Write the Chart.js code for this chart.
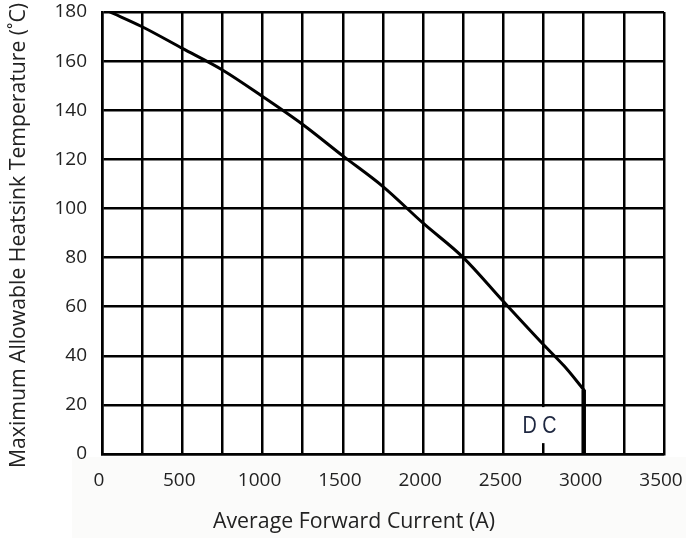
<!DOCTYPE html>
<html>
<head>
<meta charset="utf-8">
<script src="https://cdn.jsdelivr.net/npm/chart.js@4/dist/chart.umd.min.js"></script>
<style>
html,body{margin:0;padding:0;background:#fff;}
#wrap{width:686px;height:538px;position:relative;}
</style>
</head>
<body>
<div id="wrap"><canvas id="c" width="686" height="538"></canvas></div>
<script>
// Data
const current = [50, 250, 500, 750, 1000, 1250, 1500, 1750, 2000, 2250, 2500, 2750, 2880, 3000];
const temperature = [180, 174, 165.2, 156.4, 145.6, 134.2, 121.4, 108.9, 94, 80, 62.1, 44.5, 35.7, 26.2];
const dcLimitCurrent = 3000;
const xTickLabels = [0, 500, 1000, 1500, 2000, 2500, 3000, 3500];
const yTickLabels = [0, 20, 40, 60, 80, 100, 120, 140, 160, 180];
const xTitle = 'Average Forward Current (A)';
const yTitle = 'Maximum Allowable Heatsink Temperature (˚C)';
const curveLabel = 'D C';
const curveLabelAt = {x: 2750, y: 8.5};

const FONT = '"Open Sans", "Noto Sans", sans-serif';

const curvePts = current.map((x, i) => ({x, y: temperature[i]}));
const dcPts = [{x: dcLimitCurrent, y: temperature[temperature.length - 1]}, {x: dcLimitCurrent, y: 0}];

function fitText(ctx, text, x, y, width) {
  const w = ctx.measureText(text).width;
  ctx.save();
  ctx.translate(x, y);
  ctx.scale(width / w, 1);
  ctx.fillText(text, 0, 0);
  ctx.restore();
}

const decor = {
  id: 'decor',
  beforeDraw(chart) {
    const ctx = chart.ctx;
    ctx.save();
    ctx.fillStyle = '#fbfbfa';
    ctx.fillRect(72, 457, chart.width - 72, chart.height - 457);
    ctx.restore();
  },
  afterDatasetsDraw(chart) {
    const ctx = chart.ctx;
    const xs = chart.scales.x, ys = chart.scales.y;
    ctx.save();
    // DC label with white backing
    const cx = xs.getPixelForValue(curveLabelAt.x), by = ys.getPixelForValue(curveLabelAt.y);
    ctx.fillStyle = '#fff';
    ctx.fillRect(cx - 20, by - 26, 36, 36);
    ctx.fillStyle = '#1e2740';
    ctx.font = '23px "Liberation Sans", Arial, sans-serif';
    ctx.textAlign = 'center';
    ctx.textBaseline = 'alphabetic';
    fitText(ctx, curveLabel, cx - 4, by, 34);
    // axis titles
    ctx.fillStyle = '#222';
    ctx.font = '21px ' + FONT;
    fitText(ctx, xTitle, 354, 528, 282);
    ctx.save();
    ctx.translate(25, 235.5);
    ctx.rotate(-Math.PI / 2);
    fitText(ctx, yTitle, 0, 0, 465);
    ctx.restore();
    ctx.restore();
  }
};

new Chart(document.getElementById('c'), {
  type: 'scatter',
  data: {
    datasets: [
      {data: curvePts, showLine: true, borderColor: '#000', borderWidth: 3, pointRadius: 0, cubicInterpolationMode: 'monotone', fill: false, borderJoinStyle: 'round', borderCapStyle: 'round'},
      {data: dcPts, showLine: true, borderColor: '#000', borderWidth: 4.5, pointRadius: 0, fill: false}
    ]
  },
  options: {
    responsive: false,
    animation: false,
    layout: {padding: {top: 12, right: 22, left: 0, bottom: 0}},
    plugins: {legend: {display: false}, tooltip: {enabled: false}},
    scales: {
      x: {
        type: 'linear', min: 0, max: 3500,
        afterFit: s => { s.height = 84; s.paddingLeft = 0; s.paddingRight = 0; },
        grid: {color: '#000', lineWidth: 2.5, drawTicks: false},
        border: {color: '#000', width: 2.5},
        ticks: {
          stepSize: 250, padding: 15, labelOffset: -3, color: '#222', autoSkip: false, maxRotation: 0,
          font: {family: FONT, size: 19},
          callback: v => xTickLabels.includes(v) ? String(v) : ''
        }
      },
      y: {
        type: 'linear', min: 0, max: 180,
        afterFit: s => { s.width = 102; s.paddingTop = 0; s.paddingBottom = 0; },
        grid: {color: '#000', lineWidth: 2.5, drawTicks: false},
        border: {color: '#000', width: 2.5},
        ticks: {
          stepSize: 20, padding: 15, color: '#222',
          font: {family: FONT, size: 19},
          callback: v => yTickLabels.includes(v) ? String(v) : ''
        }
      }
    }
  },
  plugins: [decor]
});
</script>
</body>
</html>
